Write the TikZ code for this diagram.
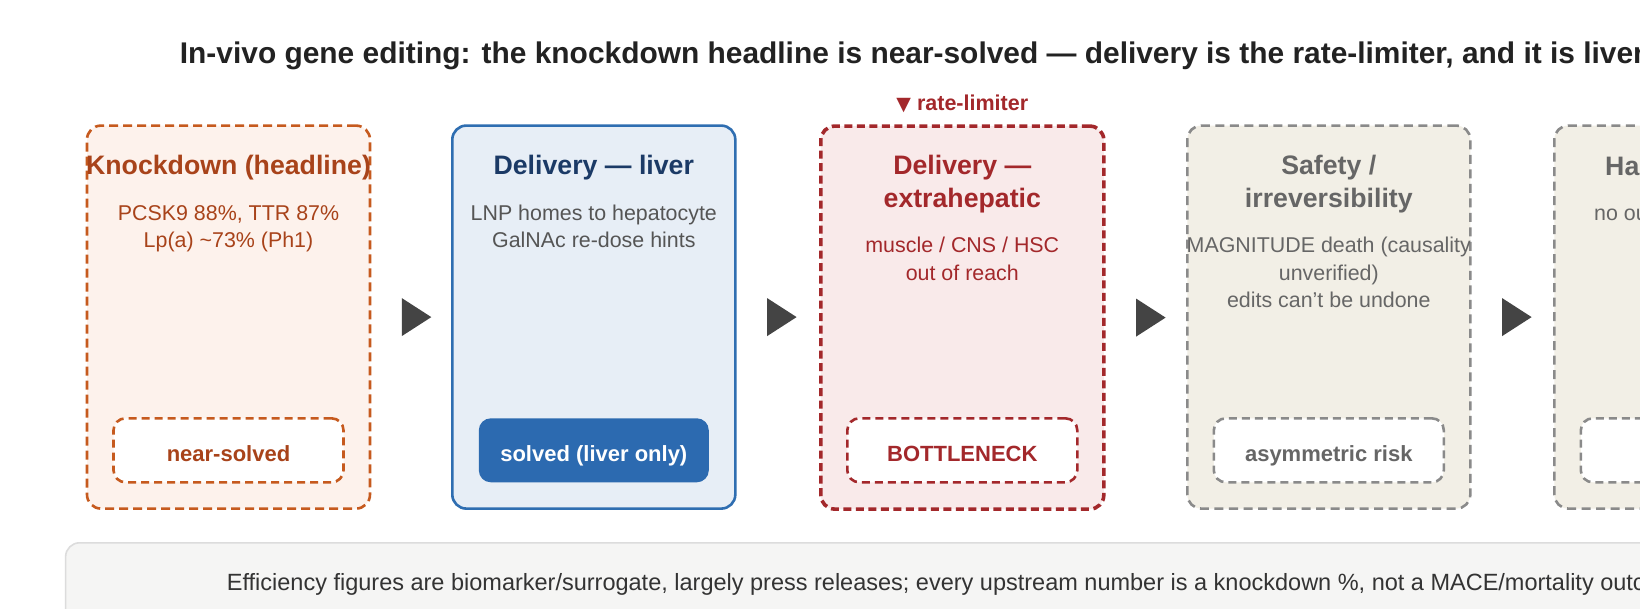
\documentclass[tikz,border=0pt]{standalone}
\usepackage{fontspec}
\setmainfont{Liberation Sans}
\newfontfamily\symfont{DejaVu Sans}
\usetikzlibrary{calc}
\definecolor{orS}{HTML}{C65A1E}
\definecolor{orT}{HTML}{A8431A}
\definecolor{orF}{HTML}{FDF2EC}
\definecolor{blS}{HTML}{2F6EB1}
\definecolor{blF}{HTML}{E7EEF6}
\definecolor{blT}{HTML}{1B3A66}
\definecolor{blB}{HTML}{2C6AB0}
\definecolor{rdS}{HTML}{A3282B}
\definecolor{rdF}{HTML}{F9EAEA}
\definecolor{grS}{HTML}{8A8A8A}
\definecolor{grF}{HTML}{F2EFE6}
\definecolor{grT}{HTML}{666666}
\definecolor{bodyT}{HTML}{555555}
\definecolor{arrC}{HTML}{444444}
\definecolor{pnF}{HTML}{F5F5F4}
\definecolor{pnS}{HTML}{DCDCDC}
\definecolor{ttlC}{HTML}{222222}
\definecolor{noteC}{HTML}{333333}
\tikzset{
  card/.style={rounded corners=14pt, minimum width=283pt, minimum height=383pt, anchor=north west, inner sep=0pt},
  cardO/.style={card, draw=orS, fill=orF, line width=2.6pt, dash pattern=on 9pt off 5pt},
  cardB/.style={card, draw=blS, fill=blF, line width=2.6pt},
  cardR/.style={card, draw=rdS, fill=rdF, line width=3.6pt, dash pattern=on 8pt off 4.5pt},
  cardG/.style={card, draw=grS, fill=grF, line width=2.6pt, dash pattern=on 9pt off 5.5pt},
  badge/.style={rounded corners=12pt, minimum width=230pt, minimum height=64pt, inner sep=0pt,
     text height=21.4pt, text depth=0pt, font=\fontsize{22}{26}\selectfont\bfseries},
  badgeO/.style={badge, draw=orS, fill=white, text=orT, line width=2.6pt, dash pattern=on 8pt off 5pt},
  badgeB/.style={badge, fill=blB, text=white},
  badgeR/.style={badge, draw=rdS, fill=white, text=rdS, line width=2.6pt, dash pattern=on 8pt off 5pt},
  badgeG/.style={badge, draw=grS, fill=white, text=grT, line width=2.6pt, dash pattern=on 8pt off 5pt},
  ttl/.style={anchor=base, inner sep=0pt, font=\fontsize{26.7}{32}\selectfont\bfseries},
  bdy/.style={anchor=base, inner sep=0pt, font=\fontsize{21.4}{26}\selectfont},
  tri/.style={fill=arrC},
}
\begin{document}
\begin{tikzpicture}[x=1pt,y=-1pt]
\useasboundingbox (0,0) rectangle (1640,609);
\clip (0,0) rectangle (1640,609);
\fill[white] (0,0) rectangle (1640,609);

% title
\node[anchor=base west, inner sep=0pt, text=ttlC, font=\fontsize{29.9}{34}\selectfont\bfseries] (title) at (179.7,63.3)
  {In-vivo gene editing: the knockdown headline is near-solved — delivery is the rate-limiter, and it is liver};

% cards
\node[cardO] (b1) at (85.7,124.3) {};
\node[cardB] (b2) at (451,124.3) {};
\node[cardR] (b3) at (819,124.3) {};
\node[cardG] (b4) at (1186,124.3) {};
\node[cardG] (b5) at (1553,124.3) {};

% rate-limiter tag
\node[anchor=base, inner sep=0pt, text=rdS, font=\fontsize{21.5}{24}\selectfont\bfseries] (rl) at ($(b3.north)+(0,-14)$)
  {{\symfont\fontsize{19}{20}\selectfont ▼} rate-limiter};

% card 1
\node[ttl, text=orT] (t1) at ($(b1.north)+(0,50.6)$) {Knockdown (headline)};
\node[bdy, text=orT] (p1a) at ($(b1.north)+(0,96)$) {PCSK9 88\%, TTR 87\%};
\node[bdy, text=orT] (p1b) at ($(b1.north)+(0,123)$) {Lp(a) \textasciitilde73\% (Ph1)};
\node[badgeO] (s1) at ($(b1.north)+(0,326)$) {near-solved};

% card 2
\node[ttl, text=blT] (t2) at ($(b2.north)+(0,50.6)$) {Delivery — liver};
\node[bdy, text=bodyT] (p2a) at ($(b2.north)+(0,96)$) {LNP homes to hepatocyte};
\node[bdy, text=bodyT] (p2b) at ($(b2.north)+(0,123)$) {GalNAc re-dose hints};
\node[badgeB] (s2) at ($(b2.north)+(0,326)$) {solved (liver only)};

% card 3
\node[ttl, text=rdS] (t3a) at ($(b3.north)+(0,50.6)$) {Delivery —};
\node[ttl, text=rdS] (t3b) at ($(b3.north)+(0,83.2)$) {extrahepatic};
\node[bdy, text=rdS] (p3a) at ($(b3.north)+(0,128.2)$) {muscle / CNS / HSC};
\node[bdy, text=rdS] (p3b) at ($(b3.north)+(0,155.8)$) {out of reach};
\node[badgeR] (s3) at ($(b3.north)+(0,326)$) {BOTTLENECK};

% card 4
\node[ttl, text=grT] (t4a) at ($(b4.north)+(0,50.6)$) {Safety /};
\node[ttl, text=grT] (t4b) at ($(b4.north)+(0,83.2)$) {irreversibility};
\node[bdy, text=grT] (p4a) at ($(b4.north)+(0,128.2)$) {MAGNITUDE death (causality};
\node[bdy, text=grT] (p4b) at ($(b4.north)+(0,155.8)$) {unverified)};
\node[bdy, text=grT] (p4c) at ($(b4.north)+(0,183.6)$) {edits can’t be undone};
\node[badgeG] (s4) at ($(b4.north)+(0,326)$) {asymmetric risk};

% card 5 (cut off at the picture's edge)
\node[ttl, anchor=base west, text=grT] (t5) at (1605,175.6) {Ha};
\node[bdy, anchor=base west, text=grT] (p5) at (1594,220.5) {no ou};
\node[badgeG] (s5) at ($(b5.north)+(0,326)$) {};

% arrows
\foreach \a/\b in {b1/b2, b2/b3, b3/b4, b4/b5}{
  \fill[tri] ($(\a.east)+(30.5,-19)$) -- ++(29.5,19) -- ++(-29.5,19) -- cycle;
}

% note panel
\node[draw=pnS, fill=pnF, line width=1.6pt, rounded corners=14pt, anchor=north west, minimum width=1700pt, minimum height=120pt, inner sep=0pt] (note) at (64.8,542) {};
\node[anchor=base west, inner sep=0pt, text=noteC, font=\fontsize{23.5}{28}\selectfont] (notetext) at (226.7,590)
  {Efficiency figures are biomarker/surrogate, largely press releases; every upstream number is a knockdown \%, not a MACE/mortality outc};
\end{tikzpicture}
\end{document}
